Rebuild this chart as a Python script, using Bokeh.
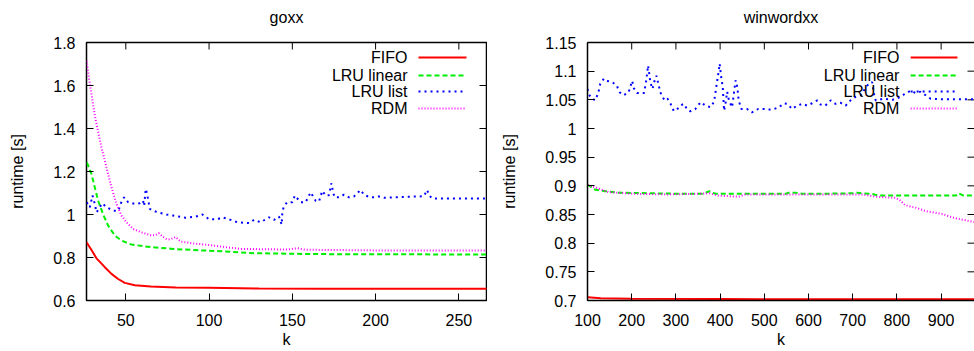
from bokeh.plotting import figure
from bokeh.layouts import row
from bokeh.models import LinearAxis, FixedTicker, CustomJSTickFormatter
from bokeh.core.properties import value
from bokeh.embed import file_html
from bokeh.resources import INLINE

FONT = "Liberation Sans"

# ---------------- goxx ----------------
goxx_xticks = [50, 100, 150, 200, 250]
goxx_yticks = [0.6, 0.8, 1.0, 1.2, 1.4, 1.6, 1.8]

goxx_fifo_k = [26.4, 29.4, 32.4, 35, 37.4, 41.4, 45.4, 49.4, 55.4, 65, 80, 100, 130, 170, 267]
goxx_fifo_v = [0.871, 0.835, 0.796, 0.775, 0.755, 0.724, 0.70, 0.682, 0.671, 0.665, 0.661, 0.659, 0.656, 0.655, 0.655]

goxx_lrulin_k = [26.5, 27, 29.4, 31.4, 33.4, 36.4, 39.4, 43.4, 47.4, 53.4, 65.4, 78.4, 90, 107, 127, 160, 200, 267]
goxx_lrulin_v = [1.242, 1.235, 1.188, 1.126, 1.064, 1.0, 0.948, 0.902, 0.879, 0.86, 0.848, 0.84, 0.835, 0.829, 0.82, 0.816, 0.815, 0.814]

goxx_lrulist_k = [26.5, 28.4, 30, 31.4, 32.4, 33.8, 35.8, 38.6, 42.6, 45.6,
                  47.6, 49, 51.4, 55.4, 58.4, 60.4, 61, 62, 63, 64.4,
                  66.4, 69.4, 74.4, 78.4, 86, 92, 96, 100, 105, 108,
                  113, 117, 124, 127, 131, 136, 139, 142, 143.6, 144,
                  145, 147, 150, 151.5, 155, 158, 161, 164, 166, 168,
                  170, 172, 173.4, 174.6, 175.4, 178, 181, 184, 187, 191,
                  193, 196, 199, 202, 205, 229, 231, 232, 234, 267]
goxx_lrulist_v = [1.057, 1.033, 1.088, 1.049, 1.01, 1.026, 1.052, 1.033, 1.018, 1.018,
                  1.064, 1.08, 1.057, 1.049, 1.052, 1.064, 1.04, 1.119, 1.088, 1.026,
                  1.018, 1.01, 1.0, 0.995, 0.985, 0.99, 1.0, 0.978, 0.978, 0.987,
                  0.975, 0.964, 0.96, 0.975, 0.964, 0.987, 0.975, 0.99, 0.953, 1.01,
                  1.041, 1.057, 1.057, 1.088, 1.057, 1.057, 1.103, 1.064, 1.06, 1.11,
                  1.088, 1.09, 1.145, 1.1, 1.08, 1.08, 1.092, 1.08, 1.084, 1.114,
                  1.092, 1.082, 1.08, 1.084, 1.078, 1.085, 1.114, 1.09, 1.075, 1.075]

goxx_rdm_k = [26.5, 27.8, 29.4, 31.4, 33.4, 35.4, 37.4, 39.4, 41.4, 44.4, 47.4, 50.4, 54.4, 59.4, 65.4, 68,
              69.8, 72, 74.4, 76.5, 78.4, 80, 83, 90, 100, 107, 119, 147, 153, 158, 200, 267]
goxx_rdm_v = [1.715, 1.637, 1.56, 1.46, 1.385, 1.31, 1.25, 1.188, 1.126, 1.049, 0.995, 0.964, 0.933, 0.917, 0.902, 0.905,
              0.913, 0.898, 0.886, 0.884, 0.89, 0.895, 0.874, 0.866, 0.858, 0.851, 0.840, 0.837, 0.843, 0.836, 0.833, 0.832]

# ---------------- winwordxx ----------------
ww_xticks = [100, 200, 300, 400, 500, 600, 700, 800, 900]
ww_yticks = [0.7, 0.75, 0.8, 0.85, 0.9, 0.95, 1.0, 1.05, 1.1, 1.15]

ww_fifo_k = [100, 130, 200, 400, 700, 975]
ww_fifo_v = [0.7055, 0.704, 0.703, 0.7025, 0.702, 0.702]

ww_lrulin_k = [100, 103, 118, 141, 171, 246, 322, 360, 376, 390, 413, 457, 548, 555, 570, 586, 623, 699, 710, 722,
               744, 759, 850, 933, 940, 951, 975]
ww_lrulin_v = [0.902, 0.9006, 0.893, 0.8906, 0.888, 0.887, 0.886, 0.886, 0.8906, 0.886, 0.886, 0.886, 0.886, 0.888,
               0.888, 0.886, 0.886, 0.887, 0.888, 0.887, 0.886, 0.883, 0.883, 0.883, 0.887, 0.883, 0.883]

ww_lrulist_k = [100, 103, 107, 117, 124, 129, 137, 144, 156, 166,
                173, 182, 193, 201, 205, 212, 224, 228, 233, 237,
                240, 242, 247, 252, 256, 261, 267, 275, 281, 288,
                295, 300, 310, 318, 325, 333, 344, 356, 367, 378,
                386, 389, 393, 397, 399, 402, 406, 409, 412, 416,
                420, 427, 431, 435, 439, 442, 448, 461, 472, 486,
                499, 510, 522, 533, 544, 552, 563, 574, 586, 597,
                608, 620, 627, 638, 650, 661, 672, 684, 695, 706,
                718, 725, 736, 744, 748, 752, 770, 790, 808, 819,
                831, 842, 853, 865, 876, 900, 975]
ww_lrulist_v = [1.069, 1.06, 1.055, 1.049, 1.061, 1.078, 1.087, 1.083, 1.081, 1.075,
                1.063, 1.058, 1.063, 1.083, 1.07, 1.062, 1.062, 1.062, 1.084, 1.11,
                1.094, 1.081, 1.069, 1.084, 1.092, 1.075, 1.058, 1.049, 1.052, 1.043,
                1.031, 1.031, 1.04, 1.043, 1.034, 1.03, 1.034, 1.046, 1.04, 1.037,
                1.046, 1.06, 1.081, 1.101, 1.113, 1.092, 1.072, 1.031, 1.043, 1.064,
                1.049, 1.037, 1.06, 1.084, 1.072, 1.049, 1.034, 1.034, 1.028, 1.034,
                1.034, 1.033, 1.034, 1.037, 1.044, 1.043, 1.034, 1.04, 1.043, 1.04,
                1.044, 1.049, 1.042, 1.04, 1.049, 1.043, 1.045, 1.04, 1.049, 1.055,
                1.058, 1.066, 1.078, 1.081, 1.061, 1.049, 1.052, 1.05, 1.055, 1.061,
                1.066, 1.062, 1.064, 1.058, 1.052, 1.051, 1.051]

ww_rdm_k = [100, 126, 148, 208, 283, 343, 377, 396, 442, 457, 600, 722, 752, 797, 808, 819, 842, 865, 902, 925, 948, 975]
ww_rdm_v = [0.902, 0.895, 0.889, 0.886, 0.885, 0.886, 0.887, 0.883, 0.881, 0.885, 0.885, 0.885, 0.881, 0.879, 0.874,
            0.866, 0.862, 0.856, 0.851, 0.845, 0.841, 0.837]

series_names = ["FIFO", "LRU linear", "LRU list", "RDM"]
series_colors = ["#ff0000", "#00ee00", "#0000ff", "#ff00ff"]
series_dashes = ["solid", "5 3", "2 4", "1 2"]

legend_rows = [0.058, 0.128, 0.19, 0.256]

fmt = CustomJSTickFormatter(code="return String(Math.round(tick*1000)/1000);")

W, H = 487, 351
TOP, BOTTOM = 42, 51
TICK = 7


def style(ax, line):
    ax.major_tick_in = TICK
    ax.major_tick_out = 0
    ax.minor_tick_line_color = None
    ax.major_tick_line_color = "black"
    ax.major_tick_line_width = 1
    ax.axis_line_color = "black" if line else None
    ax.axis_line_width = 1.5
    ax.major_label_text_font = FONT
    ax.major_label_text_font_size = "16px"
    ax.major_label_text_color = "black"
    ax.axis_label_text_font = FONT
    ax.axis_label_text_font_size = "16px"
    ax.axis_label_text_font_style = "normal"
    ax.axis_label_text_color = "black"


def make_panel(title, xr, yr, xticks, yticks, bl, br, full_box, data, leg):
    p = figure(width=W, height=H, x_range=xr, y_range=yr, output_backend="svg",
               toolbar_location=None, min_border_left=bl, min_border_right=br,
               min_border_top=TOP, min_border_bottom=BOTTOM, x_axis_location=None, y_axis_location=None)
    p.grid.visible = False
    p.background_fill_color = "white"
    p.border_fill_color = "white"
    if full_box:
        p.outline_line_color = "black"
        p.outline_line_width = 1.5
    else:
        p.outline_line_color = None

    # title as the label of a tick-less top axis (also the top border for the open panel)
    xt = LinearAxis(ticker=FixedTicker(ticks=[]), axis_label=title)
    style(xt, not full_box)
    xt.axis_label_standoff = 17
    p.add_layout(xt, "above")

    xb = LinearAxis(ticker=FixedTicker(ticks=xticks), formatter=fmt, axis_label="k")
    style(xb, not full_box)
    xb.major_label_standoff = 13
    xb.axis_label_standoff = 2
    p.add_layout(xb, "below")
    yl = LinearAxis(ticker=FixedTicker(ticks=yticks), formatter=fmt, axis_label="runtime [s]")
    style(yl, not full_box)
    yl.major_label_standoff = 11
    yl.axis_label_standoff = 24
    p.add_layout(yl, "left")

    x0, x1 = xr
    y0, y1 = yr
    fw = W - bl - br
    fh = H - TOP - BOTTOM
    # mirrored ticks (top and right), pointing inward
    ty = TICK / fh * (y1 - y0)
    tx = TICK / fw * (x1 - x0)
    p.segment(x0=xticks, y0=[y1] * len(xticks), x1=xticks, y1=[y1 - ty] * len(xticks),
              line_color="black", line_width=1)
    p.segment(x0=[x1] * len(yticks), y0=yticks, x1=[x1 - tx] * len(yticks), y1=yticks,
              line_color="black", line_width=1)

    for (ks, vs), c, d in zip(data, series_colors, series_dashes):
        p.line(ks, vs, line_color=c, line_width=2, line_dash=d)

    tf, s0, s1 = leg
    for i, (n, c, d) in enumerate(zip(series_names, series_colors, series_dashes)):
        yv = y1 - legend_rows[i] * (y1 - y0)
        p.text(x=[x0 + tf * (x1 - x0)], y=[yv], text=[n], text_align="right", text_baseline="middle",
               text_font=value(FONT), text_font_size="16px", text_color="black")
        p.line([x0 + s0 * (x1 - x0), x0 + s1 * (x1 - x0)], [yv, yv], line_color=c, line_width=2, line_dash=d)
    return p


p1 = make_panel("goxx", (26.4, 266.6), (0.6, 1.8), goxx_xticks, goxx_yticks, 86, 1, True,
                [(goxx_fifo_k, goxx_fifo_v), (goxx_lrulin_k, goxx_lrulin_v),
                 (goxx_lrulist_k, goxx_lrulist_v), (goxx_rdm_k, goxx_rdm_v)],
                (0.8025, 0.83, 0.95))
p2 = make_panel("winwordxx", (100, 975.5), (0.7, 1.15), ww_xticks, ww_yticks, 100, 0, False,
                [(ww_fifo_k, ww_fifo_v), (ww_lrulin_k, ww_lrulin_v),
                 (ww_lrulist_k, ww_lrulist_v), (ww_rdm_k, ww_rdm_v)],
                (0.806, 0.835, 0.956))

layout = row(p1, p2)
open("out.html", "w").write(file_html(layout, INLINE))
